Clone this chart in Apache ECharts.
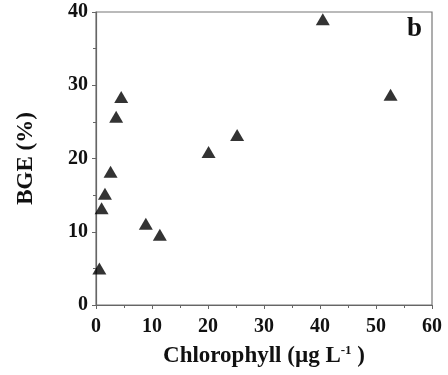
<!DOCTYPE html>
<html>
<head>
<meta charset="utf-8">
<script src="https://cdn.jsdelivr.net/npm/echarts@6/dist/echarts.min.js"></script>
<style>
html,body{margin:0;padding:0;background:#fff;}
#chart{width:448px;height:375px;}
</style>
</head>
<body>
<div id="chart"></div>
<script>
const chlorophyll = [0.6, 1.0, 1.6, 2.6, 3.6, 4.5, 8.9, 11.4, 20.1, 25.2, 40.5, 52.6];
const bge = [5.0, 13.2, 15.2, 18.2, 25.7, 28.4, 11.1, 9.6, 20.9, 23.2, 39.0, 28.7];
const xTicks = [0, 10, 20, 30, 40, 50, 60];
const yTicks = [0, 10, 20, 30, 40];

const font = 'Liberation Serif';
const chart = echarts.init(document.getElementById('chart'), null, {renderer: 'canvas'});
const points = chlorophyll.map((x, i) => [x, bge[i]]);
chart.setOption({
  animation: false,
  backgroundColor: '#fff',
  grid: {left: 96, right: 16, top: 12, bottom: 70, show: true, borderColor: '#777', borderWidth: 1.2},
  xAxis: {
    type: 'value', min: xTicks[0], max: xTicks[xTicks.length - 1], interval: 10,
    name: '{a|Chlorophyll (µg L}{s|-1}{a| )}',
    nameLocation: 'middle', nameGap: 39,
    nameTextStyle: {
      rich: {
        a: {fontFamily: font, fontWeight: 'bold', fontSize: 23, color: '#111'},
        s: {fontFamily: font, fontWeight: 'bold', fontSize: 13, color: '#111', verticalAlign: 'top', padding: [0, 0, 12, 0]}
      }
    },
    axisLine: {onZero: false, lineStyle: {color: '#666', width: 1.2}},
    axisTick: {show: true, inside: false, length: 4, lineStyle: {color: '#666'}},
    minorTick: {show: true, splitNumber: 2, length: 3, lineStyle: {color: '#666'}},
    splitLine: {show: false},
    axisLabel: {fontFamily: font, fontWeight: 'bold', fontSize: 20, color: '#111', margin: 12}
  },
  yAxis: {
    type: 'value', min: yTicks[0], max: yTicks[yTicks.length - 1], interval: 10,
    name: 'BGE (%)', nameLocation: 'middle', nameGap: 58,
    nameTextStyle: {fontFamily: font, fontWeight: 'bold', fontSize: 23, color: '#111'},
    axisLine: {onZero: false, lineStyle: {color: '#666', width: 1.2}},
    axisTick: {show: true, inside: false, length: 4, lineStyle: {color: '#666'}},
    minorTick: {show: true, splitNumber: 2, length: 3, lineStyle: {color: '#666'}},
    splitLine: {show: false},
    axisLabel: {fontFamily: font, fontWeight: 'bold', fontSize: 20, color: '#111', margin: 8}
  },
  graphic: [{
    type: 'text', left: 407, top: 16,
    style: {text: 'b', fontFamily: font, fontWeight: 'bold', fontSize: 27, fill: '#111'}
  }],
  series: [{
    type: 'scatter',
    data: points,
    symbol: 'triangle',
    symbolSize: [14, 12],
    itemStyle: {color: '#000'}
  }]
});
</script>
</body>
</html>
